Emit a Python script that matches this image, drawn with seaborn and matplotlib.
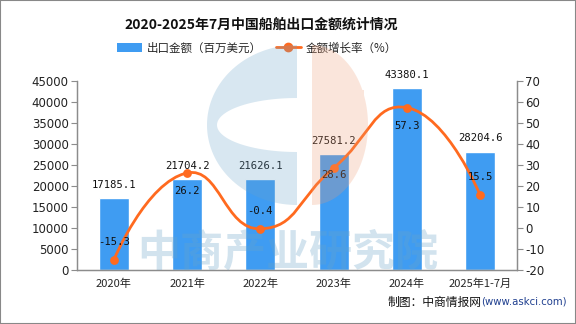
import numpy as np
import pandas as pd
import matplotlib
matplotlib.use("Agg")
import matplotlib.pyplot as plt
import seaborn as sns
from matplotlib.path import Path
from matplotlib.patches import PathPatch, Patch, Rectangle
from matplotlib.lines import Line2D

# ---- data ----
categories = ["2020年", "2021年", "2022年", "2023年", "2024年", "2025年1-7月"]
export_value = [17185.1, 21704.2, 21626.1, 27581.2, 43380.1, 28204.6]
growth_rate = [-15.3, 26.2, -0.4, 28.6, 57.3, 15.5]
left_ticks = [0, 5000, 10000, 15000, 20000, 25000, 30000, 35000, 40000, 45000]
right_ticks = [-20, -10, 0, 10, 20, 30, 40, 50, 60, 70]

title = "2020-2025年7月中国船舶出口金额统计情况"
bar_name = "出口金额（百万美元）"
line_name = "金额增长率（%）"

BAR_C = "#3F9CF2"
LINE_C = "#FF6A1F"
AX_C = "#8C8C8C"

sns.set_theme(style="white")
plt.rcParams["font.family"] = ["Noto Sans CJK SC", "DejaVu Sans"]
plt.rcParams["axes.unicode_minus"] = False

W, H = 576, 324
fig = plt.figure(figsize=(W / 100, H / 100), dpi=100)
ax = fig.add_axes([77 / W, 1 - 270 / H, 440 / W, 189 / H])
ax2 = ax.twinx()

df = pd.DataFrame({"cat": categories, "value": export_value, "growth": growth_rate})

sns.barplot(data=df, x="cat", y="value", color=BAR_C, width=0.41, ax=ax,
            saturation=1, zorder=2)
ax.set_xlim(-0.5, len(categories) - 0.5)
ax.set_ylim(0, 45000)
ax.set_yticks(left_ticks)
ax.set_yticklabels([str(t) for t in left_ticks], family="DejaVu Sans", fontsize=8.5)
ax2.set_ylim(-20, 70)
ax2.set_yticks(right_ticks)
ax2.set_yticklabels([str(t) for t in right_ticks], family="DejaVu Sans", fontsize=8.5)
ax.set_xlabel("")
ax.set_ylabel("")
ax2.set_ylabel("")
ax.set_xticks(range(len(categories)))
ax.set_xticklabels(categories, fontsize=8)
ax.set_xticks(np.arange(-0.5, len(categories), 1.0), minor=True)
ax.tick_params(axis="x", which="major", length=0, pad=6)
ax.tick_params(axis="x", which="minor", length=4, color=AX_C, width=0.8)
for a in (ax, ax2):
    a.spines["top"].set_visible(False)
    for s in ["left", "right", "bottom"]:
        a.spines[s].set_color(AX_C)
        a.spines[s].set_linewidth(0.9)
    a.tick_params(axis="y", length=4, width=0.8, pad=2, colors=AX_C, labelcolor="#222222")
    a.grid(False)

# bar labels
for i, v in enumerate(export_value):
    ax.annotate(f"{v:.1f}", (i, v), xytext=(0, 9.5), textcoords="offset points",
                ha="center", va="center", fontsize=7.6, family="DejaVu Sans Mono",
                color="#111111", zorder=6)

# smooth growth line (ECharts-like bezier) in data coords
xs = np.arange(len(categories), dtype=float)
ys = np.array(growth_rate, dtype=float)
disp = ax2.transData.transform(np.column_stack([xs, ys]))
smooth = 0.5
cps_in, cps_out = [], []
n = len(xs)
for i in range(n):
    p = disp[i]
    if i == 0 or i == n - 1:
        cps_in.append(p.copy())
        cps_out.append(p.copy())
        continue
    prev, nxt = disp[i - 1], disp[i + 1]
    v = nxt - prev
    d0 = np.linalg.norm(p - prev)
    d1 = np.linalg.norm(nxt - p)
    r = d0 / (d0 + d1)
    cps_in.append(p - v * smooth * r)
    cps_out.append(p + v * smooth * (1 - r))
verts = [disp[0]]
codes = [Path.MOVETO]
for i in range(n - 1):
    verts += [cps_out[i], cps_in[i + 1], disp[i + 1]]
    codes += [Path.CURVE4] * 3
inv = ax2.transData.inverted()
verts_data = inv.transform(np.array(verts))
curve = PathPatch(Path(verts_data, codes), facecolor="none", edgecolor=LINE_C,
                  lw=2.0, zorder=4, capstyle="round", joinstyle="round")
ax2.add_patch(curve)
sns.scatterplot(data=df.assign(xpos=xs), x="xpos", y="growth", ax=ax2, color=LINE_C,
                s=40, edgecolor=LINE_C, linewidth=0, zorder=5, legend=False)
ax2.set_xlim(-0.5, len(categories) - 0.5)
ax2.set_xlabel("")
ax2.set_ylabel("")

label_offsets = [13, -13, 13, -5, -13, 13]
for i, g in enumerate(growth_rate):
    ax2.annotate(f"{g:.1f}", (i, g), xytext=(0, label_offsets[i]), textcoords="offset points",
                 ha="center", va="center", fontsize=7.6, family="DejaVu Sans Mono",
                 color="#111111", zorder=6)

# watermark logo + text (decorative)
def px(x, y):
    return (x / W, 1 - y / H)

t = np.linspace(np.pi / 2, 3 * np.pi / 2, 80)
outer = [px(297 + 90 * np.cos(a), 125 - 80 * np.sin(a)) for a in t]
inner = [px(297 + 80 * np.cos(a), 125 - 27 * np.sin(a)) for a in t[::-1]]
vb = outer + [outer[0]] + inner + [inner[0]]
cb = [Path.MOVETO] + [Path.LINETO] * (len(outer) - 1) + [Path.CLOSEPOLY] + \
     [Path.MOVETO] + [Path.LINETO] * (len(inner) - 1) + [Path.CLOSEPOLY]
fig.patches.append(PathPatch(Path(vb, cb), transform=fig.transFigure, facecolor="#6aa3c9",
                             alpha=0.26, edgecolor="none", zorder=10))
t2 = np.linspace(-np.pi / 2, np.pi / 2, 80)
orng = [px(312 + 56 * np.cos(a), 125 - 80 * np.sin(a)) for a in t2]
slit = [px(312, 90), px(312, 102), px(364, 102), px(364, 90)]
vo = orng + [orng[0]] + slit + [slit[0]]
co = [Path.MOVETO] + [Path.LINETO] * (len(orng) - 1) + [Path.CLOSEPOLY] + \
     [Path.MOVETO] + [Path.LINETO] * 3 + [Path.CLOSEPOLY]
fig.patches.append(PathPatch(Path(vo, co), transform=fig.transFigure, facecolor="#ef9a72",
                             alpha=0.25, edgecolor="none", zorder=10))
fig.text(288 / W, 1 - 252 / H, "中商产业研究院", fontsize=31, fontweight="bold",
         color="#6aa3c9", alpha=0.3, ha="center", va="center", zorder=10)

# title & legend
fig.text(261 / W, 1 - 25 / H, title, fontsize=10, fontweight="bold", ha="center",
         va="center", color="#111111")
handles = [Patch(facecolor=BAR_C, edgecolor="none"),
           Line2D([0], [0], color=LINE_C, lw=2, marker="o", markersize=6)]
fig.legend(handles, [bar_name, line_name], loc="center", bbox_to_anchor=(257 / W, 1 - 48 / H),
           ncol=2, frameon=False, fontsize=8.3, handlelength=2.2, handleheight=0.75,
           columnspacing=1.2, handletextpad=0.4)

# source
fig.text(567 / W, 1 - 302 / H, "(www.askci.com)", fontsize=7.3, color="#1F3F8F",
         ha="right", va="center", family="DejaVu Sans")
fig.text(482 / W, 1 - 302 / H, "制图：中商情报网", fontsize=8.5, color="#111111",
         ha="right", va="center")

# border
fig.patches.append(Rectangle((0, 0), 1, 1, transform=fig.transFigure, fill=False,
                             edgecolor="#888888", lw=1.5, zorder=20))

fig.savefig("out.png", dpi=100)
